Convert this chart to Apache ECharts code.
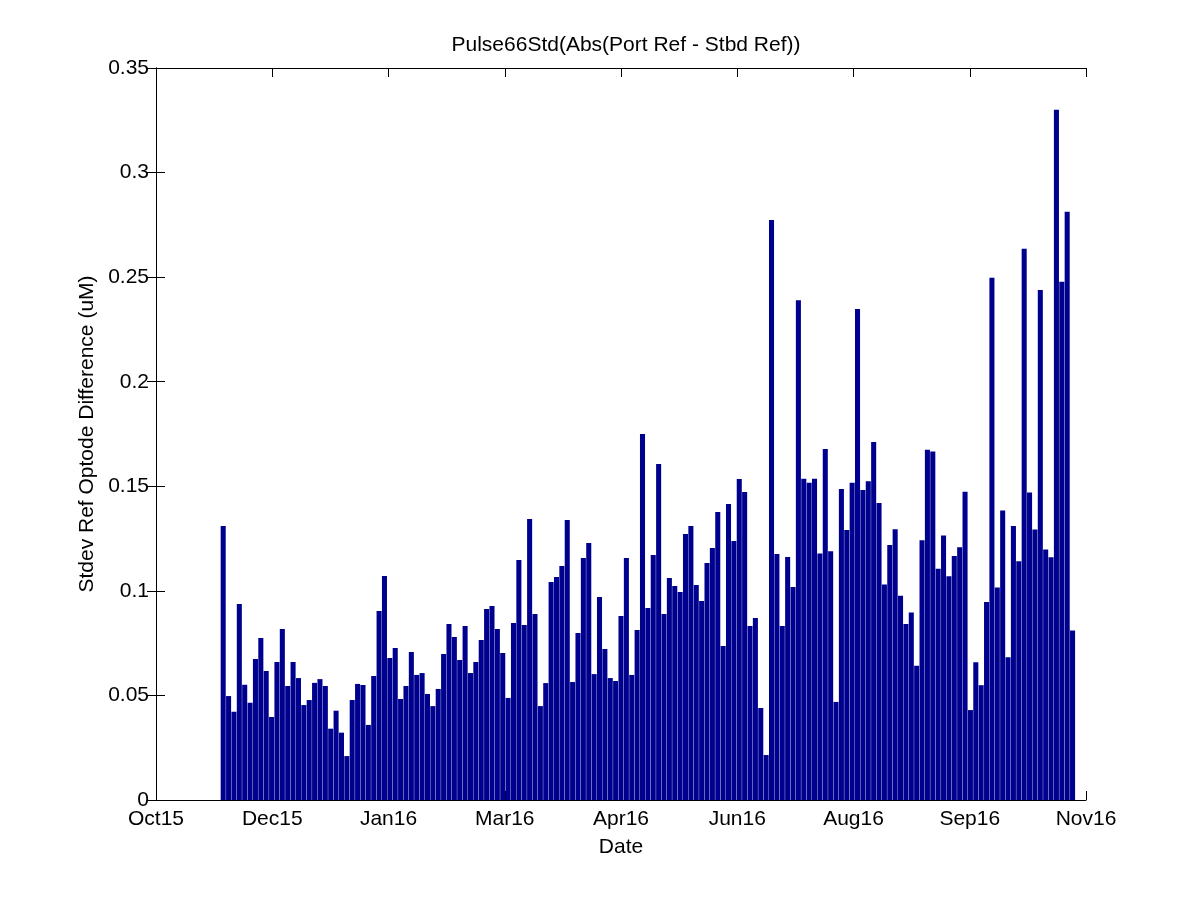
<!DOCTYPE html>
<html>
<head>
<meta charset="utf-8">
<script src="https://cdn.jsdelivr.net/npm/echarts@6/dist/echarts.min.js"></script>
<style>html,body{margin:0;padding:0;background:#fff}#c{width:1200px;height:900px}</style>
</head>
<body>
<div id="c"></div>
<script>
const titleText = 'Pulse66Std(Abs(Port Ref - Stbd Ref))';
const xAxisName = 'Date';
const yAxisName = 'Stdev Ref Optode Difference (uM)';
const xTickLabels = ['Oct15', 'Dec15', 'Jan16', 'Mar16', 'Apr16', 'Jun16', 'Aug16', 'Sep16', 'Nov16'];
const yMin = 0, yMax = 0.35, yStep = 0.05;
const leadingEmptySlots = 12;
const trailingEmptySlots = 2;
const stdevValues = [
  0.131, 0.0497, 0.0422, 0.0937, 0.0551, 0.0465, 0.0674, 0.0775, 0.0617, 0.0397,
  0.066, 0.0818, 0.0545, 0.066, 0.0583, 0.0454, 0.0478, 0.056, 0.0578, 0.0545,
  0.0341, 0.0427, 0.0322, 0.021, 0.0478, 0.0555, 0.055, 0.0359, 0.0593, 0.0904,
  0.1071, 0.0679, 0.0727, 0.0483, 0.0545, 0.0708, 0.0598, 0.0607, 0.0507, 0.0449,
  0.0531, 0.0698, 0.0842, 0.0779, 0.0669, 0.0832, 0.0607, 0.066, 0.0765, 0.0913,
  0.0928, 0.0818, 0.0703, 0.0488, 0.0846, 0.1148, 0.0837, 0.1344, 0.0889, 0.0449,
  0.0559, 0.1042, 0.1066, 0.1119, 0.1339, 0.0564, 0.0798, 0.1157, 0.1229, 0.0602,
  0.0971, 0.0722, 0.0583, 0.0569, 0.088, 0.1157, 0.0598, 0.0813, 0.175, 0.0918,
  0.1171, 0.1607, 0.0889, 0.1061, 0.1023, 0.0995, 0.1272, 0.131, 0.1028, 0.0951,
  0.1133, 0.1205, 0.1377, 0.0736, 0.1415, 0.1238, 0.1535, 0.1473, 0.0832, 0.087,
  0.044, 0.0215, 0.2773, 0.1176, 0.0832, 0.1162, 0.1018, 0.239, 0.1536, 0.1517,
  0.1536, 0.1179, 0.1678, 0.1189, 0.0469, 0.1487, 0.1291, 0.1517, 0.2348, 0.1482,
  0.1524, 0.1712, 0.142, 0.103, 0.1219, 0.1294, 0.0977, 0.0842, 0.0897, 0.0642,
  0.1242, 0.1675, 0.1666, 0.1106, 0.1265, 0.107, 0.1167, 0.1209, 0.1474, 0.043,
  0.0659, 0.0549, 0.0947, 0.2497, 0.1016, 0.1384, 0.0683, 0.131, 0.1142, 0.2636,
  0.147, 0.1293, 0.2439, 0.1198, 0.1161, 0.33, 0.2478, 0.2813, 0.0811
];

const slotValues = [];
for (let i = 0; i < leadingEmptySlots; i++) slotValues.push(null);
stdevValues.forEach(v => slotValues.push(v));
for (let i = 0; i < trailingEmptySlots; i++) slotValues.push(null);
const slotCategories = slotValues.map((_, i) => 'S' + i);

const FONT = "'Liberation Sans', Arial, Helvetica, sans-serif";
const FS = 21;
const axisLine = { show: true, lineStyle: { color: '#000', width: 1 } };
const tickIn = { show: true, inside: true, length: 9, lineStyle: { color: '#000', width: 1 } };

const chart = echarts.init(document.getElementById('c'), null, { renderer: 'canvas' });
chart.setOption({
  animation: false,
  backgroundColor: '#fff',
  title: {
    text: titleText,
    left: 621,
    top: 30,
    textAlign: 'center',
    textStyle: { fontFamily: FONT, fontSize: FS, fontWeight: 'normal', color: '#000' }
  },
  grid: { left: 156, right: 114, top: 68, bottom: 100, containLabel: false },
  xAxis: [
    {
      type: 'category', data: slotCategories, show: false, boundaryGap: true
    },
    {
      type: 'value', position: 'bottom', min: 0, max: xTickLabels.length - 1, interval: 1,
      axisLine: axisLine, axisTick: tickIn, splitLine: { show: false },
      axisLabel: {
        margin: 9, fontFamily: FONT, fontSize: FS, color: '#000',
        formatter: v => xTickLabels[Math.round(v)] || ''
      },
      name: xAxisName, nameLocation: 'middle', nameGap: 37,
      nameTextStyle: { fontFamily: FONT, fontSize: FS, color: '#000' }
    },
    {
      type: 'value', position: 'top', min: 0, max: xTickLabels.length - 1, interval: 1,
      axisLine: axisLine, axisTick: tickIn, splitLine: { show: false },
      axisLabel: { show: false }
    }
  ],
  yAxis: [
    {
      type: 'value', position: 'left', min: yMin, max: yMax, interval: yStep,
      axisLine: axisLine, axisTick: tickIn, splitLine: { show: false },
      axisLabel: { margin: 7, fontFamily: FONT, fontSize: FS, color: '#000' },
      name: yAxisName, nameLocation: 'middle', nameGap: 56, nameRotate: 90,
      nameTextStyle: { fontFamily: FONT, fontSize: FS, color: '#000' }
    },
    {
      type: 'value', position: 'right', min: yMin, max: yMax, interval: yStep,
      axisLine: axisLine, axisTick: tickIn, splitLine: { show: false },
      axisLabel: { show: false }
    }
  ],
  series: [
    {
      type: 'bar',
      xAxisIndex: 0,
      yAxisIndex: 0,
      data: slotValues,
      barCategoryGap: '6%',
      itemStyle: { color: '#00008F' },
      silent: true
    }
  ]
});
</script>
</body>
</html>
